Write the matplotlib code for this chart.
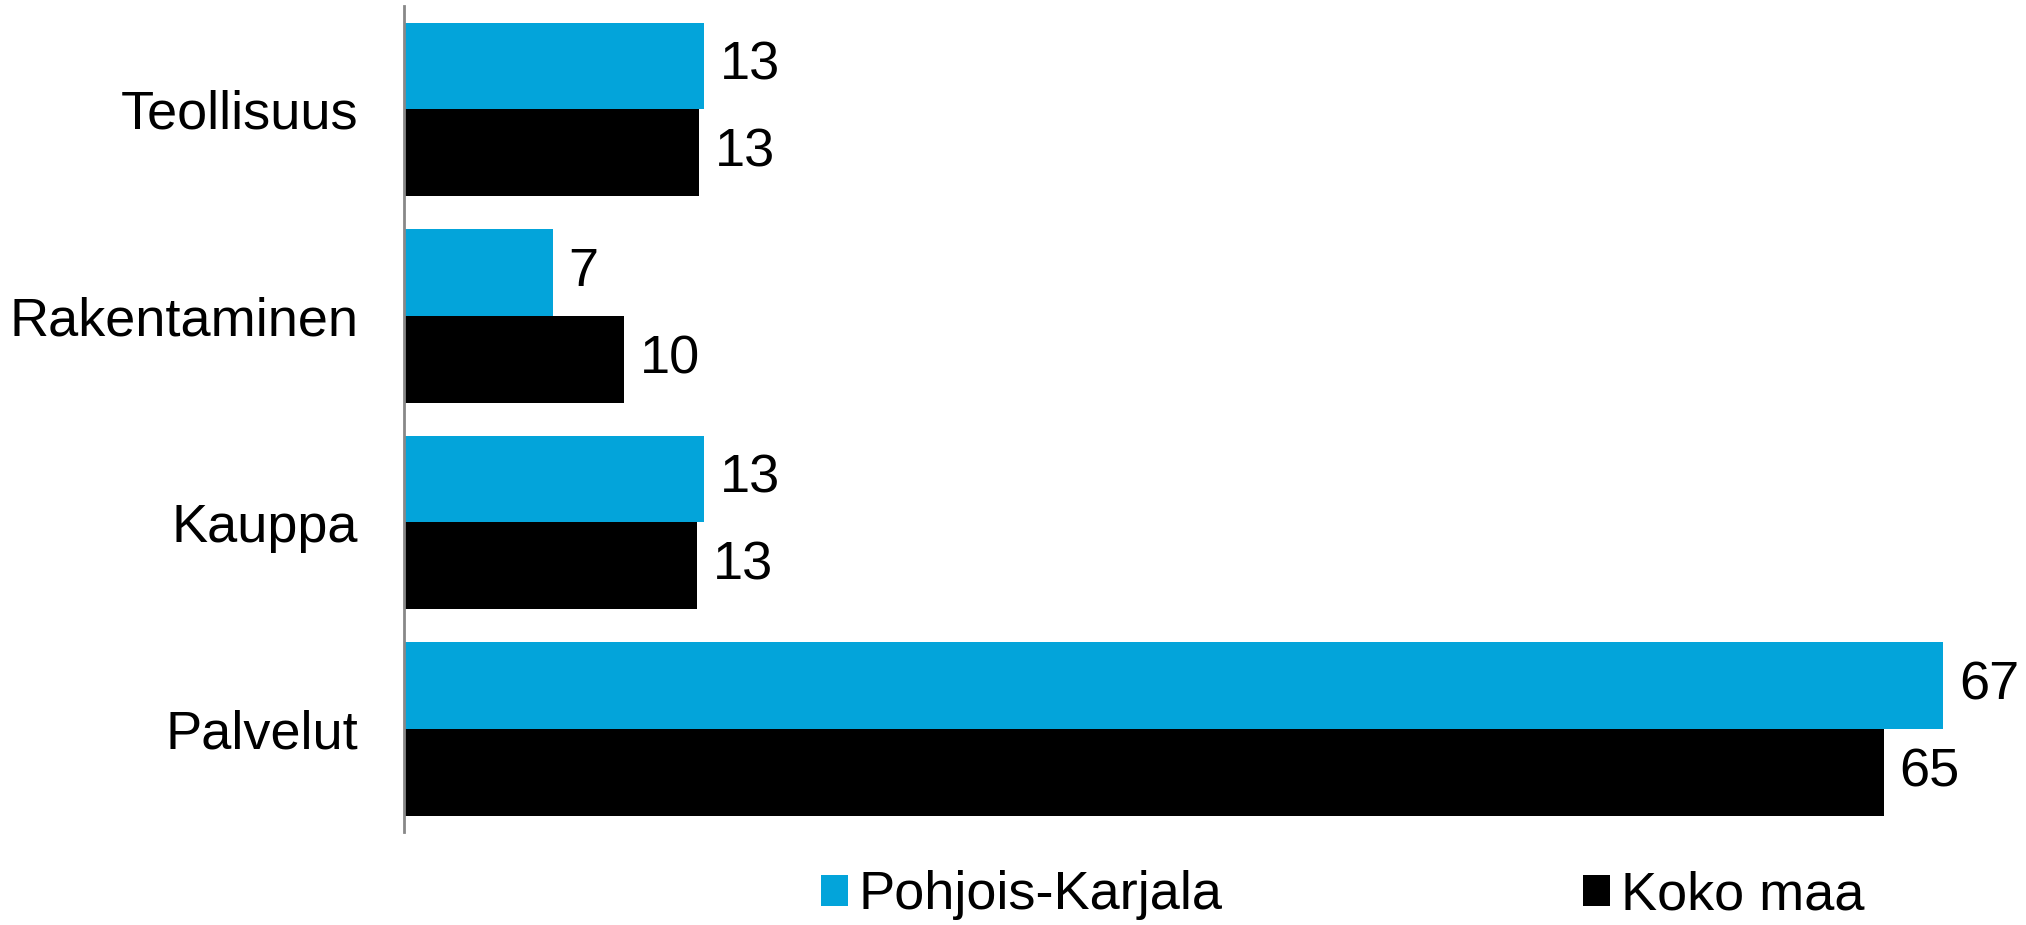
import matplotlib
matplotlib.use("Agg")
import matplotlib.pyplot as plt
from matplotlib.patches import Patch
import numpy as np

categories = ["Teollisuus", "Rakentaminen", "Kauppa", "Palvelut"]
series_names = ["Pohjois-Karjala", "Koko maa"]
pohjois_karjala = [13.1, 6.5, 13.1, 67.3]
koko_maa = [12.9, 9.6, 12.8, 64.7]
labels_pk = ["13", "7", "13", "67"]
labels_km = ["13", "10", "13", "65"]

blue = "#03A4DA"
black = "#000000"

plt.rcParams['font.family'] = ['Liberation Sans', 'DejaVu Sans']

fig = plt.figure(figsize=(20.26, 9.25), dpi=100)
ax = fig.add_axes([0.1994, 0.1005, 0.7902, 0.893])

y = np.arange(len(categories))
h = 0.42
b1 = ax.barh(y - h / 2, pohjois_karjala, height=h, color=blue, label=series_names[0])
b2 = ax.barh(y + h / 2, koko_maa, height=h, color=black, label=series_names[1])

fs = 39
for rect, lab in zip(b1, labels_pk):
    ax.text(rect.get_width() + 0.7, rect.get_y() + rect.get_height() / 2, lab,
            va='center', ha='left', fontsize=fs)
for rect, lab in zip(b2, labels_km):
    ax.text(rect.get_width() + 0.7, rect.get_y() + rect.get_height() / 2, lab,
            va='center', ha='left', fontsize=fs)

ax.set_xlim(0, 70)
ax.set_ylim(len(categories) - 0.5, -0.5)
ax.set_yticks(y)
ax.set_yticklabels(categories, fontsize=fs)
ax.tick_params(axis='y', length=0, pad=33)
ax.set_xticks([])
for s in ['top', 'right', 'bottom']:
    ax.spines[s].set_visible(False)
ax.spines['left'].set_color('#888888')
ax.spines['left'].set_linewidth(2)

handles = [Patch(facecolor=blue), Patch(facecolor=black)]
fig.legend(handles, series_names, loc='center left', bbox_to_anchor=(0.405, 0.032),
           ncol=2, frameon=False, fontsize=fs, handlelength=0.5, handleheight=0.5,
           handletextpad=0.2, columnspacing=6.65, borderaxespad=0, borderpad=0)

fig.savefig("out.png", dpi=100)
